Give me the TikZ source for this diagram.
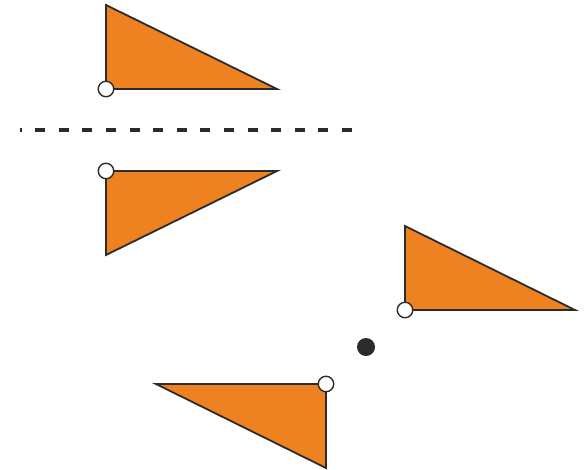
\documentclass[tikz,border=0pt]{standalone}
\usetikzlibrary{positioning}
\definecolor{triorange}{HTML}{EE8221}
\definecolor{edgegray}{HTML}{2B2B2B}
\tikzset{
    every path/.style={line join=miter},
}

\begin{document}
\begin{tikzpicture}[x=1pt,y=-1pt,
                    tri/.style={fill=triorange,draw=edgegray,line width=1.8pt},
                    pivot/.style={circle,draw=edgegray,fill=white,line width=1.4pt,inner sep=0pt,minimum size=15.5pt},
                    centre/.style={circle,fill=edgegray,inner sep=0pt,minimum size=18pt},
                    mirror/.style={draw=edgegray,line width=4.5pt,dash pattern=on 10pt off 13.6pt,dash phase=8.5pt}]
\useasboundingbox (0,0) rectangle (585,469);

% Triangle above the mirror line
\coordinate (a1) at (106,5);
\coordinate (a2) at (106,89);
\coordinate (a3) at (277,89);
\draw[tri] (a1) -- (a2) -- (a3) -- cycle;
\node[pivot] (p1) at (a2) {};

% Mirror line
\coordinate (m1) at (20,130);
\coordinate (m2) at (352,130);
\path[mirror] (m1) -- (m2);

% Reflected triangle
\coordinate (b1) at (106,255);
\coordinate (b2) at (106,171);
\coordinate (b3) at (277,171);
\draw[tri] (b1) -- (b2) -- (b3) -- cycle;
\node[pivot] (p2) at (b2) {};

% Triangle before the half turn
\coordinate (c1) at (405,226);
\coordinate (c2) at (405,310);
\coordinate (c3) at (575,310);
\draw[tri] (c1) -- (c2) -- (c3) -- cycle;
\node[pivot] (p3) at (c2) {};

% Centre of rotation
\node[centre] (o) at (366,347) {};

% Triangle after the half turn
\coordinate (d1) at (326,468);
\coordinate (d2) at (326,384);
\coordinate (d3) at (156,384);
\draw[tri] (d1) -- (d2) -- (d3) -- cycle;
\node[pivot] (p4) at (d2) {};

\end{tikzpicture}
\end{document}
